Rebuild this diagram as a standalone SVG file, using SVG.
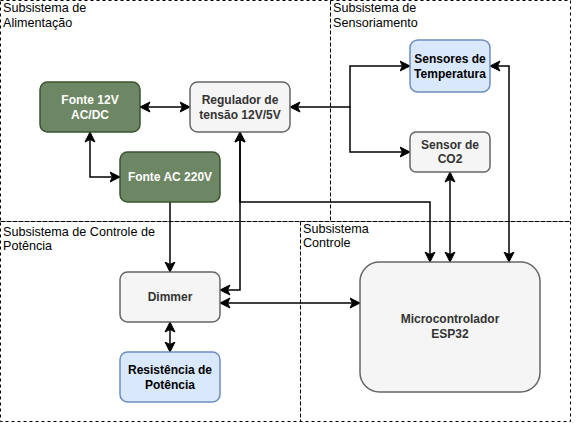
<svg xmlns="http://www.w3.org/2000/svg" width="583" height="423" viewBox="0 0 583 423">
<style>
.sub{fill:none;stroke:#000;stroke-width:1;stroke-dasharray:3 3}
.lbl{font-family:"Liberation Sans",Arial,sans-serif;font-size:12.6px;fill:#000}
.nt{font-family:"Liberation Sans",Arial,sans-serif;font-size:12px;font-weight:bold;text-anchor:middle}
.green{fill:#6d8764;stroke:#3a5431;stroke-width:1.5}
.gray{fill:#f5f5f5;stroke:#666;stroke-width:1.5}
.blue{fill:#dae8fc;stroke:#6c8ebf;stroke-width:1.5}
.w{fill:#fff}.g{fill:#333}.k{fill:#000}
.c{fill:none;stroke:#000;stroke-width:1.5}
.a{marker-end:url(#arr)}
.b{marker-start:url(#arr);marker-end:url(#arr)}
</style>
<defs>
<marker id="arr" markerUnits="userSpaceOnUse" markerWidth="12" markerHeight="12" viewBox="0 0 12 12" refX="10.5" refY="6" orient="auto-start-reverse">
<path d="M0.5,1 L10.5,6 L0.5,11 L3,6 Z" fill="#000" stroke="#000" stroke-width="1"/>
</marker>
</defs>
<rect width="583" height="423" fill="#fff"/>
<g id="subsystems">
<rect class="sub" x="0.5" y="0.5" width="330" height="221"/>
<rect class="sub" x="330.5" y="0.5" width="240" height="221"/>
<rect class="sub" x="0.5" y="221.5" width="300" height="200"/>
<rect class="sub" x="300.5" y="221.5" width="270" height="200"/>
<text class="lbl" x="3" y="12">Subsistema de</text>
<text class="lbl" x="3" y="27">Alimentação</text>
<text class="lbl" x="333" y="12">Subsistema de</text>
<text class="lbl" x="333" y="27">Sensoriamento</text>
<text class="lbl" x="3" y="236">Subsistema de Controle de</text>
<text class="lbl" x="3" y="250">Potência</text>
<text class="lbl" x="303" y="233">Subsistema</text>
<text class="lbl" x="303" y="247">Controle</text>
</g>
<g id="connectors">
<path class="c b" d="M140,107 H190"/>
<path class="c b" d="M90,132 V177 H120"/>
<path class="c a" d="M170,202 V272"/>
<path class="c b" d="M240,132 V202 H430 V262"/>
<path class="c b" d="M240,132 V290 H220"/>
<path class="c b" d="M220,303 H360"/>
<path class="c b" d="M170,322 V352"/>
<path class="c b" d="M290,107 H350 V66 H410"/>
<path class="c a" d="M350,107 V152 H410"/>
<path class="c b" d="M450,172 V262"/>
<path class="c b" d="M490,66 H509 V262"/>
</g>
<g id="fonte12v">
<rect class="green" x="40" y="82" width="100" height="50" rx="7.5"/>
<text class="nt w" x="90" y="104">Fonte 12V</text>
<text class="nt w" x="90" y="118.5">AC/DC</text>
</g>
<g id="regulador">
<rect class="gray" x="190" y="82" width="100" height="50" rx="7.5"/>
<text class="nt g" x="240" y="104">Regulador de</text>
<text class="nt g" x="240" y="118.5">tensão 12V/5V</text>
</g>
<g id="fonteac">
<rect class="green" x="120" y="152" width="100" height="50" rx="7.5"/>
<text class="nt w" x="170" y="181">Fonte AC 220V</text>
</g>
<g id="sensores">
<rect class="blue" x="410" y="40" width="80" height="52" rx="7.8"/>
<text class="nt k" x="450" y="63">Sensores de</text>
<text class="nt k" x="450" y="77.5">Temperatura</text>
</g>
<g id="co2">
<rect class="gray" x="410" y="132" width="80" height="40" rx="6"/>
<text class="nt g" x="450" y="148.5">Sensor de</text>
<text class="nt g" x="450" y="163">CO2</text>
</g>
<g id="dimmer">
<rect class="gray" x="120" y="272" width="100" height="50" rx="7.5"/>
<text class="nt g" x="170" y="301">Dimmer</text>
</g>
<g id="resistencia">
<rect class="blue" x="120" y="352" width="100" height="50" rx="7.5"/>
<text class="nt k" x="170" y="374">Resistência de</text>
<text class="nt k" x="170" y="388.5">Potência</text>
</g>
<g id="esp32">
<rect class="gray" x="360" y="262" width="180" height="130" rx="19.5"/>
<text class="nt g" x="450" y="323">Microcontrolador</text>
<text class="nt g" x="450" y="338">ESP32</text>
</g>
</svg>
